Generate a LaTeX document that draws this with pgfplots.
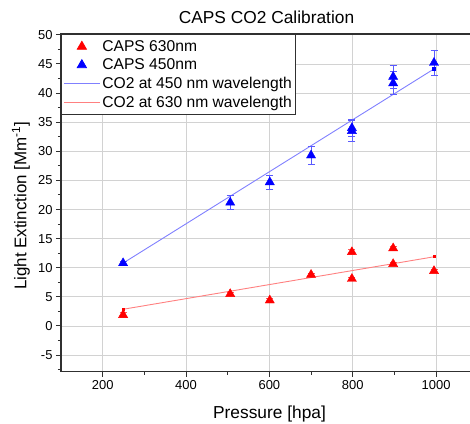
\documentclass[border=0pt]{standalone}
\usepackage{fontspec}
\setmainfont{Liberation Sans}
\usepackage{pgfplots}
\usepackage{pgfplotstable}
\pgfplotsset{compat=1.18}

\definecolor{gridc}{HTML}{D2D2D2}
\definecolor{axc}{HTML}{303030}
\definecolor{bline}{HTML}{8080FF}
\definecolor{rline}{HTML}{FF8080}
\definecolor{berr}{HTML}{5A5AFF}
\definecolor{rerr}{HTML}{FF5A5A}

\pgfplotstableread{
x y e
249 1.9 0.4
506 5.5 0.3
601 4.4 0.3
700 8.8 0.3
798 12.7 0.4
798 8.1 0.3
897 13.35 0.4
897 10.65 0.3
995 9.45 0.3
}\redpts

\pgfplotstableread{
x y e
249 10.8 0.3
506 21.2 1.2
601 24.7 1.2
700 29.3 1.5
798 33.5 1.8
798 34.0 1.5
897 41.7 2.0
897 42.8 2.0
995 45.2 2.2
}\bluepts

\pgfplotsset{
  legend image code/.code={\draw[mark repeat=2,mark phase=2,#1] plot coordinates {(0bp,0bp) (18bp,0bp) (36bp,0bp)};}
}

\begin{document}
\begin{tikzpicture}
\begin{axis}[
  at={(61bp,52.3bp)}, anchor=south west,
  scale only axis, width=411bp, height=337.7bp,
  xmin=100, xmax=1086.2, ymin=-7.85, ymax=50.15,
  xtick={200,400,...,1000}, minor xtick={300,500,700,900},
  ytick={-5,0,...,50}, minor ytick={-7.5,-2.5,...,47.5},
  tick align=outside, xtick pos=bottom, ytick pos=left,
  major tick length=5bp, minor tick length=3bp,
  tick style={axc, line width=1bp},
  grid=major, major grid style={gridc, line width=0.8bp},
  axis line style={axc, line width=1.2bp},
  /pgf/number format/assume math mode=true,
  /pgf/number format/1000 sep={},
  tick label style={font=\fontsize{13}{15}\selectfont},
  title={CAPS CO2 Calibration},
  xlabel={Pressure [hpa]},
  ylabel={Light Extinction [Mm\textsuperscript{-1}]},
  every axis title/.style={at={(rel axis cs:0.5,1)}, yshift=17bp, anchor=center, font=\fontsize{17.4}{20}\selectfont},
  every axis x label/.style={at={(rel axis cs:0.5,0)}, xshift=3bp, yshift=-42bp, anchor=center, font=\fontsize{17.4}{20}\selectfont},
  every axis y label/.style={at={(rel axis cs:0,0.5)}, xshift=-40bp, yshift=-3bp, rotate=90, anchor=center, font=\fontsize{17}{20}\selectfont},
  legend style={at={(rel axis cs:0,1)}, anchor=north west, draw=axc, line width=0.8bp, fill=white,
    font=\fontsize{15.7}{18.8}\selectfont, inner xsep=2bp, inner ysep=4bp, row sep=2bp},
  legend cell align=left,
]
% fitted lines
\addplot[forget plot, bline, line width=0.9bp, mark=square*, mark size=1.1bp, mark options={fill=blue, draw=blue}] coordinates {(249,10.8) (995,44.15)};
\addplot[forget plot, rline, line width=0.9bp, mark=square*, mark size=1.1bp, mark options={fill=red, draw=red}] coordinates {(249,2.87) (996,11.9)};
% measurements
\addplot[forget plot, only marks, mark=triangle*, mark size=5.3bp, red,
  error bars/.cd, y dir=both, y explicit,
  error bar style={rerr, line width=0.7bp},
  error mark options={rotate=90, mark size=3.5bp, rerr, line width=0.7bp}]
  table[x=x, y=y, y error=e] {\redpts};
\addplot[forget plot, only marks, mark=triangle*, mark size=5.3bp, blue,
  error bars/.cd, y dir=both, y explicit,
  error bar style={berr, line width=0.7bp},
  error mark options={rotate=90, mark size=3.5bp, berr, line width=0.7bp}]
  table[x=x, y=y, y error=e] {\bluepts};
\addlegendimage{only marks, mark=triangle*, mark size=5.3bp, red}
\addlegendentry{CAPS 630nm}
\addlegendimage{only marks, mark=triangle*, mark size=5.3bp, blue}
\addlegendentry{CAPS 450nm}
\addlegendimage{bline, line width=0.9bp}
\addlegendentry{CO2 at 450 nm wavelength}
\addlegendimage{rline, line width=0.9bp}
\addlegendentry{CO2 at 630 nm wavelength}
\end{axis}
\pgfresetboundingbox
\useasboundingbox (0,0) rectangle (470bp,424bp);
\end{tikzpicture}
\end{document}
